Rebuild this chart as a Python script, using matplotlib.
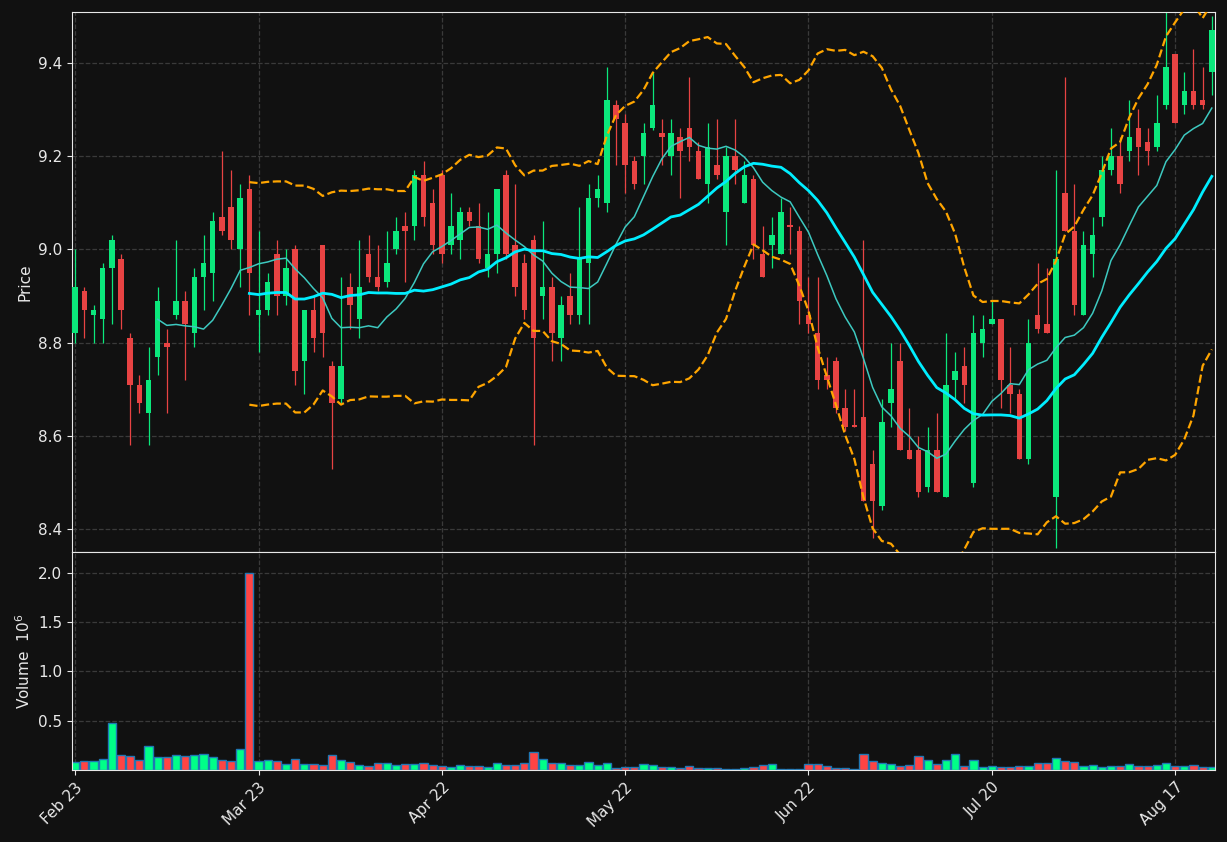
import numpy as np
import pandas as pd
import matplotlib
matplotlib.use("Agg")
import matplotlib.pyplot as plt

opens = [8.82,8.91,8.86,8.85,8.96,8.98,8.81,8.71,8.65,8.77,8.80,8.86,8.89,8.82,8.94,8.95,9.07,9.09,9.00,9.13,
         8.86,8.87,8.99,8.90,9.00,8.76,8.87,9.01,8.75,8.68,8.92,8.85,8.99,8.94,8.93,9.00,9.05,9.05,9.16,9.10,
         9.16,9.01,9.02,9.08,9.05,8.96,8.99,9.16,9.01,8.97,9.02,8.90,8.92,8.81,8.90,8.86,8.97,9.11,9.10,9.31,
         9.27,9.19,9.20,9.26,9.25,9.20,9.24,9.26,9.21,9.14,9.18,9.08,9.20,9.10,9.15,8.99,9.01,8.99,9.05,9.04,
         8.86,8.82,8.73,8.76,8.66,8.621,8.64,8.54,8.45,8.67,8.76,8.57,8.57,8.49,8.57,8.47,8.72,8.75,8.50,8.80,
         8.84,8.85,8.71,8.69,8.55,8.86,8.84,8.47,9.12,9.04,8.86,8.99,9.07,9.17,9.20,9.21,9.26,9.23,9.22,9.31,
         9.42,9.31,9.34,9.32,9.38]
highs = [9.00,8.92,8.88,8.97,9.03,8.99,8.82,8.73,8.79,8.92,8.83,9.02,8.91,8.96,9.03,9.08,9.21,9.17,9.14,9.16,
         9.04,8.95,9.02,9.00,9.01,8.87,8.90,9.01,8.76,8.94,8.95,9.02,9.03,9.01,9.04,9.07,9.08,9.17,9.19,9.13,
         9.17,9.12,9.09,9.09,9.10,9.08,9.13,9.17,9.14,8.99,9.03,9.06,8.94,8.90,8.95,9.09,9.14,9.16,9.39,9.32,
         9.29,9.20,9.27,9.38,9.28,9.28,9.26,9.37,9.23,9.27,9.28,9.22,9.28,9.19,9.16,9.05,9.07,9.11,9.09,9.05,
         8.94,8.94,8.77,8.77,8.70,8.70,9.02,8.57,8.68,8.80,8.80,8.66,8.60,8.62,8.65,8.82,8.78,8.79,8.86,8.86,
         8.89,8.85,8.79,8.70,8.85,8.97,8.96,9.17,9.37,9.14,9.04,9.07,9.20,9.26,9.24,9.32,9.30,9.26,9.33,9.51,
         9.42,9.38,9.43,9.39,9.50]
lows = [8.80,8.81,8.80,8.80,8.84,8.83,8.58,8.65,8.58,8.73,8.65,8.85,8.72,8.79,8.87,8.89,9.03,9.00,8.92,8.86,
        8.78,8.86,8.86,8.88,8.71,8.69,8.78,8.77,8.53,8.67,8.83,8.81,8.93,8.91,8.92,8.99,8.93,9.02,9.05,8.99,
        8.97,8.99,8.98,9.05,8.97,8.94,8.95,8.98,8.90,8.85,8.58,8.85,8.76,8.76,8.84,8.84,8.84,9.09,9.08,9.18,
        9.12,9.13,9.14,9.255,9.18,9.16,9.11,9.19,9.15,9.10,9.15,9.01,9.14,9.10,8.98,8.94,8.96,8.99,8.99,8.84,
        8.82,8.70,8.70,8.65,8.61,8.62,8.46,8.38,8.44,8.62,8.57,8.55,8.47,8.48,8.48,8.47,8.68,8.67,8.49,8.77,
        8.84,8.66,8.65,8.55,8.54,8.82,8.82,8.36,9.04,8.86,8.86,8.94,9.05,9.16,9.12,9.19,9.16,9.18,9.21,9.30,
        9.27,9.29,9.30,9.30,9.33]
closes = [8.92,8.87,8.87,8.96,9.02,8.87,8.71,8.67,8.72,8.89,8.79,8.89,8.84,8.94,8.97,9.06,9.04,9.02,9.11,8.95,
          8.87,8.93,8.90,8.96,8.74,8.87,8.81,8.82,8.67,8.75,8.88,8.92,8.94,8.92,8.97,9.04,9.04,9.16,9.07,9.01,
          8.99,9.05,9.08,9.06,8.98,8.99,9.13,8.99,8.92,8.87,8.81,8.92,8.82,8.88,8.86,8.98,9.11,9.13,9.32,9.28,
          9.18,9.14,9.25,9.31,9.24,9.25,9.21,9.22,9.15,9.22,9.16,9.20,9.17,9.16,9.01,8.94,9.03,9.08,9.049,8.89,
          8.84,8.72,8.72,8.66,8.62,8.62,8.46,8.46,8.63,8.70,8.57,8.55,8.48,8.57,8.48,8.71,8.74,8.71,8.82,8.83,
          8.85,8.72,8.69,8.55,8.80,8.83,8.82,8.98,9.04,8.88,9.01,9.03,9.17,9.20,9.14,9.24,9.22,9.21,9.27,9.39,
          9.27,9.34,9.31,9.31,9.47]
volumes = [0.084,0.094,0.094,0.114,0.477,0.154,0.144,0.104,0.245,0.131,0.131,0.154,0.144,0.154,0.164,0.131,0.104,0.094,0.215,2.0,
           0.094,0.104,0.094,0.064,0.114,0.064,0.064,0.05,0.154,0.104,0.084,0.05,0.04,0.074,0.074,0.05,0.064,0.064,0.074,0.05,
           0.04,0.03,0.05,0.04,0.04,0.03,0.074,0.05,0.05,0.074,0.185,0.114,0.074,0.074,0.05,0.05,0.084,0.05,0.074,0.02,
           0.03,0.03,0.064,0.05,0.03,0.03,0.02,0.045,0.02,0.02,0.02,0.013,0.013,0.02,0.03,0.05,0.064,0.015,0.015,0.015,
           0.064,0.064,0.045,0.025,0.025,0.013,0.164,0.094,0.074,0.064,0.045,0.05,0.144,0.104,0.064,0.104,0.164,0.045,0.104,0.03,
           0.04,0.03,0.03,0.045,0.045,0.074,0.074,0.124,0.094,0.084,0.04,0.05,0.03,0.04,0.04,0.064,0.04,0.04,0.05,0.074,
           0.04,0.04,0.05,0.03,0.03]
tick_pos = [0, 20, 40, 60, 80, 100, 120]
tick_labels = ["Feb 23", "Mar 23", "Apr 22", "May 22", "Jun 22", "Jul 20", "Aug 17"]

o = np.array(opens); h = np.array(highs); l = np.array(lows); c = np.array(closes); v = np.array(volumes)
x = np.arange(len(c))
up = c >= o
cs = pd.Series(c)
ma10 = cs.rolling(10).mean()
ma20 = cs.rolling(20).mean()
sd20 = cs.rolling(20).std()
upper = ma20 + 2 * sd20
lower = ma20 - 2 * sd20

BG = "#111111"
GREEN = "#0be87c"; RED = "#e84343"
VGREEN = "#00ff88"; VRED = "#ff4444"
fg = "#e8e8e8"

fig = plt.figure(figsize=(12.27, 8.42), dpi=100, facecolor=BG)
ax = fig.add_axes([72/1227, (842-552)/842, 1143/1227, 540/842], facecolor=BG)
axv = fig.add_axes([72/1227, (842-770)/842, 1143/1227, 218/842], facecolor=BG, sharex=ax)

for a in (ax, axv):
    a.grid(True, color="#3a3a3a", linestyle="--", linewidth=0.9)
    a.set_axisbelow(True)
    for s in a.spines.values():
        s.set_color(fg)
    a.tick_params(colors=fg, labelsize=11)

cols = np.where(up, GREEN, RED)
ax.vlines(x, l, h, colors=cols, linewidth=0.9, zorder=2)
ax.bar(x, np.maximum(np.abs(c - o), 0.003), bottom=np.minimum(o, c), width=0.6, color=cols, zorder=3)
ax.plot(x, ma10, color="#3dc9c0", linewidth=1.1, zorder=4)
ax.plot(x, ma20, color="#00eeff", linewidth=2.0, zorder=4)
ax.plot(x, upper, color="#ffa500", linestyle="--", linewidth=1.6, zorder=4)
ax.plot(x, lower, color="#ffa500", linestyle="--", linewidth=1.6, zorder=4)
ax.set_ylim(8.351, 9.509)
ax.set_yticks([8.4, 8.6, 8.8, 9.0, 9.2, 9.4])
ax.set_ylabel("Price", color=fg, fontsize=11)
plt.setp(ax.get_xticklabels(), visible=False)
ax.tick_params(axis="x", length=0)

axv.bar(x, v, width=0.9, color=np.where(up, VGREEN, VRED), edgecolor="#1f77b4", linewidth=1.0)
axv.set_ylim(0, 2.21)
axv.set_yticks([0.5, 1.0, 1.5, 2.0])
axv.set_ylabel("Volume  $10^6$", color=fg, fontsize=11)
axv.set_xlim(-0.35, 124.35)
axv.set_xticks(tick_pos)
axv.set_xticklabels(tick_labels, rotation=45, ha="right", rotation_mode="anchor")

fig.savefig("out.png", dpi=100, facecolor=BG)
